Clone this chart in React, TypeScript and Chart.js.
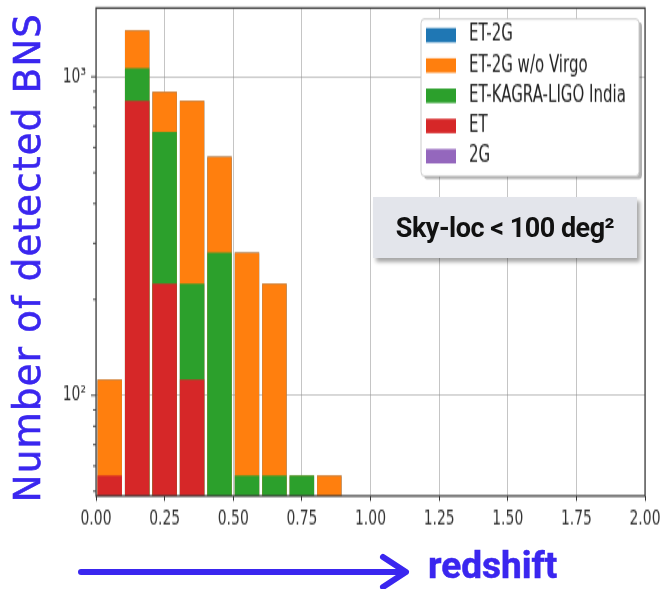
import React, { useEffect, useRef } from 'react';
import { Chart, registerables } from 'chart.js';

Chart.register(...registerables);

// ---------------- data ----------------
const binCenters = [0.05, 0.15, 0.25, 0.35, 0.45, 0.55, 0.65, 0.75, 0.85];
const seriesNames = ['ET-2G', 'ET-2G w/o Virgo', 'ET-KAGRA-LIGO India', 'ET', '2G'];
const seriesColors = ['#1f77b4', '#ff7f0e', '#2ca02c', '#d62728', '#9467bd'];
const et2gCounts = [112, 1400, 897, 841, 561, 281, 224, 56, 56];
const et2gNoVirgoCounts = [112, 1400, 897, 841, 561, 281, 224, 56, 56];
const etKagraLigoIndiaCounts = [null, 1065, 672, 224, 281, 56, 56, 56, null];
const etCounts = [56, 840, 224, 112, null, null, null, null, null];
const twoGCounts = [null, null, null, null, null, null, null, null, null];
const seriesCounts = [et2gCounts, et2gNoVirgoCounts, etKagraLigoIndiaCounts, etCounts, twoGCounts];
const drawOrder = [4, 3, 2, 1, 0];

const xTickValues = [0, 0.25, 0.5, 0.75, 1.0, 1.25, 1.5, 1.75, 2.0];
const xTickLabels = ['0.00', '0.25', '0.50', '0.75', '1.00', '1.25', '1.50', '1.75', '2.00'];
const yMajorTicks = [100, 1000];
const yMajorLabels = ['10²', '10³'];
const yMinorTicks = [50, 60, 70, 80, 90, 200, 300, 400, 500, 600, 700, 800, 900];

const yTitle = 'Number of detected BNS';
const xTitle = 'redshift';
const annotationText = 'Sky-loc < 100 deg²';

// ---------------- geometry ----------------
const W = 664;
const H = 589;
const CH = 393; // canvas height before vertical stretch
const S = H / CH;

const BLUE = '#3a26ef';

export default function App() {
  const canvasRef = useRef<HTMLCanvasElement | null>(null);

  useEffect(() => {
    const canvas = canvasRef.current;
    if (!canvas) return;

    const decor = {
      id: 'decor',
      afterDraw(chart: any) {
        const ctx = chart.ctx as CanvasRenderingContext2D;
        const { left, right, top, bottom } = chart.chartArea;
        const ys = chart.scales.y;
        ctx.save();
        // y tick marks (major + minor)
        ctx.strokeStyle = '#333';
        ctx.lineWidth = 0.9;
        ctx.beginPath();
        for (const v of yMinorTicks) {
          const p = ys.getPixelForValue(v);
          ctx.moveTo(left - 3, p);
          ctx.lineTo(left, p);
        }
        for (const v of yMajorTicks) {
          const p = ys.getPixelForValue(v);
          ctx.moveTo(left - 5, p);
          ctx.lineTo(left, p);
        }
        ctx.stroke();
        // frame
        ctx.strokeStyle = '#3a3a3a';
        ctx.lineWidth = 1.2;
        ctx.strokeRect(left, top, right - left, bottom - top);

        // legend
        const lx = 421;
        const ly = 19 / S;
        const lw = 218;
        const lh = (176 - 19) / S;
        ctx.fillStyle = 'rgba(0,0,0,0.3)';
        ctx.beginPath();
        (ctx as any).roundRect(lx + 3, ly + 2, lw, lh, 3);
        ctx.fill();
        ctx.fillStyle = '#ffffff';
        ctx.strokeStyle = '#cccccc';
        ctx.lineWidth = 1;
        ctx.beginPath();
        (ctx as any).roundRect(lx, ly, lw, lh, 3);
        ctx.fill();
        ctx.stroke();
        ctx.font = '15px "DejaVu Sans"';
        ctx.textBaseline = 'middle';
        ctx.textAlign = 'left';
        seriesNames.forEach((name, i) => {
          const cy = (35.2 + i * 30.25) / S;
          ctx.fillStyle = seriesColors[i];
          ctx.fillRect(426, cy - 4.8, 30, 9.6);
          ctx.fillStyle = '#222';
          ctx.fillText(name, 469, cy);
        });
        ctx.restore();
      },
    };

    const datasets = seriesNames.map((name, i) => ({
      label: name,
      data: binCenters
        .map((x, j) => ({ x, y: seriesCounts[i][j] }))
        .filter((d) => d.y !== null),
      backgroundColor: seriesColors[i],
      borderWidth: 0,
      grouped: false,
      order: drawOrder[i],
      barPercentage: 0.89,
      categoryPercentage: 1.0,
    }));

    const chart = new Chart(canvas, {
      type: 'bar',
      data: { datasets: datasets as any },
      plugins: [decor],
      options: {
        animation: false,
        responsive: false,
        devicePixelRatio: 1,
        layout: { padding: { left: 0, right: 19, top: 8 / S, bottom: 0 } },
        plugins: { legend: { display: false }, tooltip: { enabled: false } },
        scales: {
          x: {
            type: 'linear',
            min: 0,
            max: 2,
            offset: false,
            z: 1,
            afterBuildTicks: (axis: any) => {
              axis.ticks = xTickValues.map((value) => ({ value }));
            },
            afterFit: (scale: any) => {
              scale.height = CH - 496 / S;
              scale.paddingLeft = 0;
              scale.paddingRight = 0;
            },
            border: { display: false },
            grid: {
              offset: false,
              color: 'rgba(140,140,140,0.5)',
              lineWidth: 1,
              drawTicks: true,
              tickLength: 5 / S,
              tickColor: '#333',
              tickWidth: 1,
            },
            ticks: {
              autoSkip: false,
              maxRotation: 0,
              padding: 4,
              color: '#333',
              font: { family: 'DejaVu Sans', size: 13.9 },
              callback: (v: any) => {
                const k = xTickValues.indexOf(Number(v));
                return k >= 0 ? xTickLabels[k] : '';
              },
            },
          },
          y: {
            type: 'logarithmic',
            min: 48.3,
            max: 1644,
            z: 1,
            afterBuildTicks: (axis: any) => {
              axis.ticks = [...yMinorTicks, ...yMajorTicks]
                .sort((a, b) => a - b)
                .map((value) => ({ value }));
            },
            afterFit: (scale: any) => {
              scale.width = 96;
              scale.paddingTop = 0;
              scale.paddingBottom = 0;
            },
            border: { display: false },
            grid: {
              color: (c: any) =>
                c.tick && yMajorTicks.includes(c.tick.value) ? 'rgba(140,140,140,0.5)' : 'rgba(0,0,0,0)',
              lineWidth: 1,
              drawTicks: false,
            },
            ticks: {
              autoSkip: false,
              padding: 10,
              color: '#333',
              font: { family: 'DejaVu Sans', size: 13.9 },
              callback: (v: any) => {
                const k = yMajorTicks.indexOf(Number(v));
                return k >= 0 ? yMajorLabels[k] : '';
              },
            },
          },
        },
      } as any,
    });
    return () => chart.destroy();
  }, []);

  return (
    <div style={{ position: 'fixed', left: 0, top: 0, width: W, height: H, background: '#fff', overflow: 'hidden' }}>
      <canvas
        ref={canvasRef}
        width={W}
        height={CH}
        style={{
          position: 'absolute',
          left: 0,
          top: 0,
          width: W,
          height: CH,
          transform: `scaleY(${S})`,
          transformOrigin: '0 0',
        }}
      />
      {/* y title */}
      <div
        style={{
          position: 'absolute',
          left: 27,
          top: 257,
          width: 600,
          height: 37,
          lineHeight: '37px',
          marginLeft: -300,
          marginTop: -18.5,
          textAlign: 'center',
          transform: 'rotate(-90deg)',
          fontFamily: '"DejaVu Sans"',
          fontSize: 37,
          letterSpacing: '1.3px',
          color: BLUE,
          WebkitTextStroke: `0.6px ${BLUE}`,
          whiteSpace: 'nowrap',
        }}
      >
        {yTitle}
      </div>
      {/* x arrow */}
      <svg width={W} height={H} style={{ position: 'absolute', left: 0, top: 0 }}>
        <line x1={81} y1={572} x2={403} y2={572} stroke={BLUE} strokeWidth={6} strokeLinecap="round" />
        <polyline
          points="383,557 406,572 383,587"
          fill="none"
          stroke={BLUE}
          strokeWidth={6}
          strokeLinecap="round"
          strokeLinejoin="round"
        />
      </svg>
      {/* x title */}
      <div
        style={{
          position: 'absolute',
          left: 428,
          top: 547,
          height: 37,
          lineHeight: '37px',
          fontFamily: 'Roboto',
          fontWeight: 700,
          fontSize: 37,
          color: BLUE,
          WebkitTextStroke: `0.5px ${BLUE}`,
          whiteSpace: 'nowrap',
        }}
      >
        {xTitle}
      </div>
      {/* annotation box */}
      <div
        style={{
          position: 'absolute',
          left: 373,
          top: 197,
          width: 264,
          height: 61,
          background: '#e3e5eb',
          boxShadow: '3px 4px 4px rgba(0,0,0,0.35)',
          display: 'flex',
          alignItems: 'center',
          justifyContent: 'center',
          fontFamily: 'Roboto',
          fontWeight: 700,
          fontSize: 27,
          letterSpacing: '-0.5px',
          color: '#111',
          whiteSpace: 'nowrap',
        }}
      >
        {annotationText}
      </div>
    </div>
  );
}
